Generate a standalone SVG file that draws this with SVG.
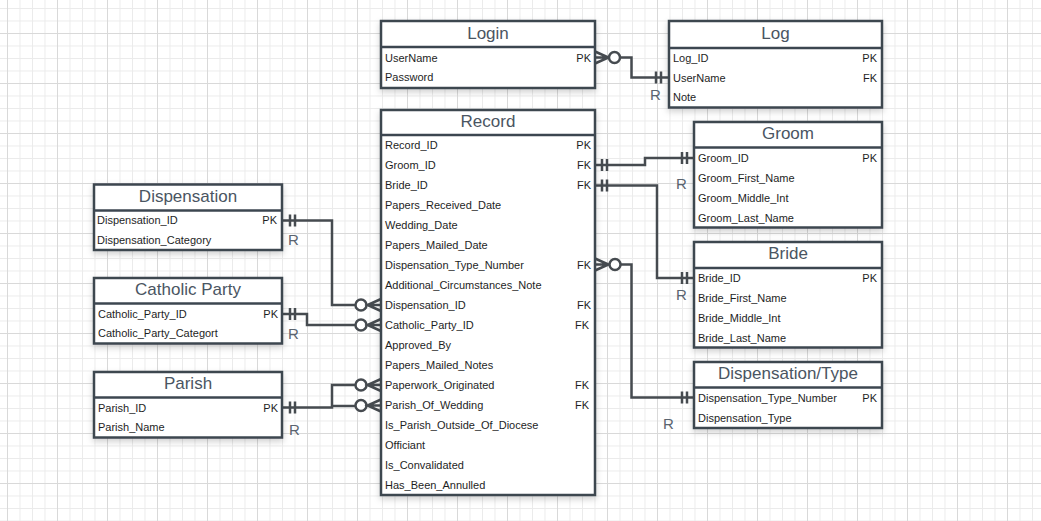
<svg xmlns="http://www.w3.org/2000/svg" width="1041" height="521" viewBox="0 0 1041 521">
<defs>
<pattern id="minor" x="7" y="8" width="12.5" height="12.5" patternUnits="userSpaceOnUse">
<rect x="0" y="0" width="1" height="12.5" fill="#ebebeb"/>
<rect x="0" y="0" width="12.5" height="1" fill="#ebebeb"/>
</pattern>
<pattern id="major" x="7" y="33" width="50" height="50" patternUnits="userSpaceOnUse">
<rect x="0" y="0" width="1" height="50" fill="#d9d9d9"/>
<rect x="0" y="0" width="50" height="1" fill="#d9d9d9"/>
</pattern>
<filter id="sh" x="-10%" y="-10%" width="130%" height="130%">
<feDropShadow dx="0" dy="3" stdDeviation="3" flood-color="#000" flood-opacity="0.18"/>
</filter>
</defs>
<style>
.box{fill:#fff;stroke:#3c4650;stroke-width:2.5;filter:url(#sh)}
.sep{stroke:#3c4650;stroke-width:2.5}
.title{font-family:"Liberation Sans",Arial,sans-serif;font-size:17px;fill:#4a5562;text-anchor:middle}
.row{font-family:"Liberation Sans",Arial,sans-serif;font-size:11px;fill:#1e1e1e}
.key{font-family:"Liberation Sans",Arial,sans-serif;font-size:11px;fill:#1e1e1e;text-anchor:end}
.r{font-family:"Liberation Sans",Arial,sans-serif;font-size:15px;fill:#5a6470}
.ln{fill:none;stroke:#464b50;stroke-width:2.5}
.circ{fill:#fff;stroke:#464b50;stroke-width:2.5}
</style>
<rect x="0" y="0" width="1041" height="521" fill="#fff"/>
<rect x="0" y="0" width="1041" height="521" fill="url(#minor)"/>
<rect x="0" y="0" width="1041" height="521" fill="url(#major)"/>

<g id="connectors">
<!-- Login - Log -->
<path class="ln" d="M620,57.5 H631.5 V77.5 H669"/>
<path class="ln" d="M595,51.5 L608.5,57.5 L595,63.5 M595,57.5 H608.5"/>
<circle class="circ" cx="614.5" cy="57.5" r="5.5"/>
<path class="ln" d="M656,71.5 V83.5 M661,71.5 V83.5"/>
<text class="r" x="650" y="100">R</text>
<!-- Record - Groom -->
<path class="ln" d="M595,165 H645 V158 H694"/>
<path class="ln" d="M602,159 V171 M607,159 V171 M682,152 V164 M687,152 V164"/>
<text class="r" x="676" y="189">R</text>
<!-- Record - Bride -->
<path class="ln" d="M595,185.5 H657 V278 H694"/>
<path class="ln" d="M602,179.5 V191.5 M607,179.5 V191.5 M682,272 V284 M687,272 V284"/>
<text class="r" x="676" y="300">R</text>
<!-- Record - Dispensation/Type -->
<path class="ln" d="M621,264.5 H631.5 V397.5 H694"/>
<path class="ln" d="M595,258.5 L608.5,264.5 L595,270.5 M595,264.5 H608.5"/>
<circle class="circ" cx="615" cy="264.5" r="5.5"/>
<path class="ln" d="M682,391.5 V403.5 M687,391.5 V403.5"/>
<text class="r" x="663" y="429">R</text>
<!-- Dispensation - Record -->
<path class="ln" d="M282,220.5 H332 V305 H355"/>
<path class="ln" d="M290,214.5 V226.5 M295,214.5 V226.5"/>
<circle class="circ" cx="361" cy="305" r="5.5"/>
<path class="ln" d="M381,299 L367.5,305 L381,311 M367.5,305 H381"/>
<text class="r" x="288" y="245">R</text>
<!-- Catholic Party - Record -->
<path class="ln" d="M282,314 H307 V325 H355"/>
<path class="ln" d="M290,308 V320 M295,308 V320"/>
<circle class="circ" cx="361" cy="325" r="5.5"/>
<path class="ln" d="M381,319 L367.5,325 L381,331 M367.5,325 H381"/>
<text class="r" x="288" y="339">R</text>
<!-- Parish - Record -->
<path class="ln" d="M282,407.5 H332 V385 H355 M332,406 H355"/>
<path class="ln" d="M290,401.5 V413.5 M295,401.5 V413.5"/>
<circle class="circ" cx="361" cy="385" r="5.5"/>
<circle class="circ" cx="361" cy="405.5" r="5.5"/>
<path class="ln" d="M381,379 L367.5,385 L381,391 M367.5,385 H381"/>
<path class="ln" d="M381,399.5 L367.5,405.5 L381,411.5 M367.5,405.5 H381"/>
<text class="r" x="289" y="435">R</text>
</g>

<g id="login">
<rect class="box" x="381" y="21" width="214" height="67"/>
<line class="sep" x1="381" y1="47" x2="595" y2="47"/>
<text class="title" x="488" y="39">Login</text>
<text class="row" x="385" y="61.5">UserName</text><text class="key" x="591" y="61.5">PK</text>
<text class="row" x="385" y="81">Password</text>
</g>

<g id="log">
<rect class="box" x="669" y="21" width="213" height="86.5"/>
<line class="sep" x1="669" y1="48" x2="882" y2="48"/>
<text class="title" x="775.5" y="39">Log</text>
<text class="row" x="673" y="61.5">Log_ID</text><text class="key" x="877" y="61.5">PK</text>
<text class="row" x="673" y="81.5">UserName</text><text class="key" x="877" y="81.5">FK</text>
<text class="row" x="673" y="101">Note</text>
</g>

<g id="record">
<rect class="box" x="381" y="110" width="214" height="385"/>
<line class="sep" x1="381" y1="135" x2="595" y2="135"/>
<text class="title" x="488" y="127">Record</text>
<text class="row" x="385" y="148.5">Record_ID</text><text class="key" x="591" y="148.5">PK</text>
<text class="row" x="385" y="168.5">Groom_ID</text><text class="key" x="591" y="168.5">FK</text>
<text class="row" x="385" y="188.5">Bride_ID</text><text class="key" x="591" y="188.5">FK</text>
<text class="row" x="385" y="208.5">Papers_Received_Date</text>
<text class="row" x="385" y="228.5">Wedding_Date</text>
<text class="row" x="385" y="248.5">Papers_Mailed_Date</text>
<text class="row" x="385" y="268.5">Dispensation_Type_Number</text><text class="key" x="591" y="268.5">FK</text>
<text class="row" x="385" y="288.5">Additional_Circumstances_Note</text>
<text class="row" x="385" y="308.5">Dispensation_ID</text><text class="key" x="591" y="308.5">FK</text>
<text class="row" x="385" y="328.5">Catholic_Party_ID</text><text class="key" x="589" y="328.5">FK</text>
<text class="row" x="385" y="348.5">Approved_By</text>
<text class="row" x="385" y="368.5">Papers_Mailed_Notes</text>
<text class="row" x="385" y="388.5">Paperwork_Originated</text><text class="key" x="589" y="388.5">FK</text>
<text class="row" x="385" y="408.5">Parish_Of_Wedding</text><text class="key" x="589" y="408.5">FK</text>
<text class="row" x="385" y="428.5">Is_Parish_Outside_Of_Diocese</text>
<text class="row" x="385" y="448.5">Officiant</text>
<text class="row" x="385" y="468.5">Is_Convalidated</text>
<text class="row" x="385" y="488.5">Has_Been_Annulled</text>
</g>

<g id="groom">
<rect class="box" x="694" y="122" width="188" height="105.5"/>
<line class="sep" x1="694" y1="147.5" x2="882" y2="147.5"/>
<text class="title" x="788" y="139">Groom</text>
<text class="row" x="698" y="161.5">Groom_ID</text><text class="key" x="877" y="161.5">PK</text>
<text class="row" x="698" y="181.5">Groom_First_Name</text>
<text class="row" x="698" y="201.5">Groom_Middle_Int</text>
<text class="row" x="698" y="221.5">Groom_Last_Name</text>
</g>

<g id="bride">
<rect class="box" x="694" y="242" width="188" height="105.5"/>
<line class="sep" x1="694" y1="268" x2="882" y2="268"/>
<text class="title" x="788" y="259">Bride</text>
<text class="row" x="698" y="281.5">Bride_ID</text><text class="key" x="877" y="281.5">PK</text>
<text class="row" x="698" y="301.5">Bride_First_Name</text>
<text class="row" x="698" y="321.5">Bride_Middle_Int</text>
<text class="row" x="698" y="341.5">Bride_Last_Name</text>
</g>

<g id="dispensation-type">
<rect class="box" x="694" y="362" width="188" height="66"/>
<line class="sep" x1="694" y1="387.5" x2="882" y2="387.5"/>
<text class="title" x="788" y="379">Dispensation/Type</text>
<text class="row" x="698" y="401.5">Dispensation_Type_Number</text><text class="key" x="877" y="401.5">PK</text>
<text class="row" x="698" y="421.5">Dispensation_Type</text>
</g>

<g id="dispensation">
<rect class="box" x="94" y="184.5" width="188" height="65.5"/>
<line class="sep" x1="94" y1="210.5" x2="282" y2="210.5"/>
<text class="title" x="188" y="202">Dispensation</text>
<text class="row" x="97" y="224">Dispensation_ID</text><text class="key" x="277" y="224">PK</text>
<text class="row" x="97" y="243.5">Dispensation_Category</text>
</g>

<g id="catholic-party">
<rect class="box" x="94" y="278" width="188" height="65.5"/>
<line class="sep" x1="94" y1="303.5" x2="282" y2="303.5"/>
<text class="title" x="188" y="295">Catholic Party</text>
<text class="row" x="98" y="317.5">Catholic_Party_ID</text><text class="key" x="278" y="317.5">PK</text>
<text class="row" x="98" y="337">Catholic_Party_Categort</text>
</g>

<g id="parish">
<rect class="box" x="94" y="372" width="188" height="65.5"/>
<line class="sep" x1="94" y1="397.5" x2="282" y2="397.5"/>
<text class="title" x="188" y="389">Parish</text>
<text class="row" x="98" y="411.5">Parish_ID</text><text class="key" x="278" y="411.5">PK</text>
<text class="row" x="98" y="431">Parish_Name</text>
</g>
</svg>
